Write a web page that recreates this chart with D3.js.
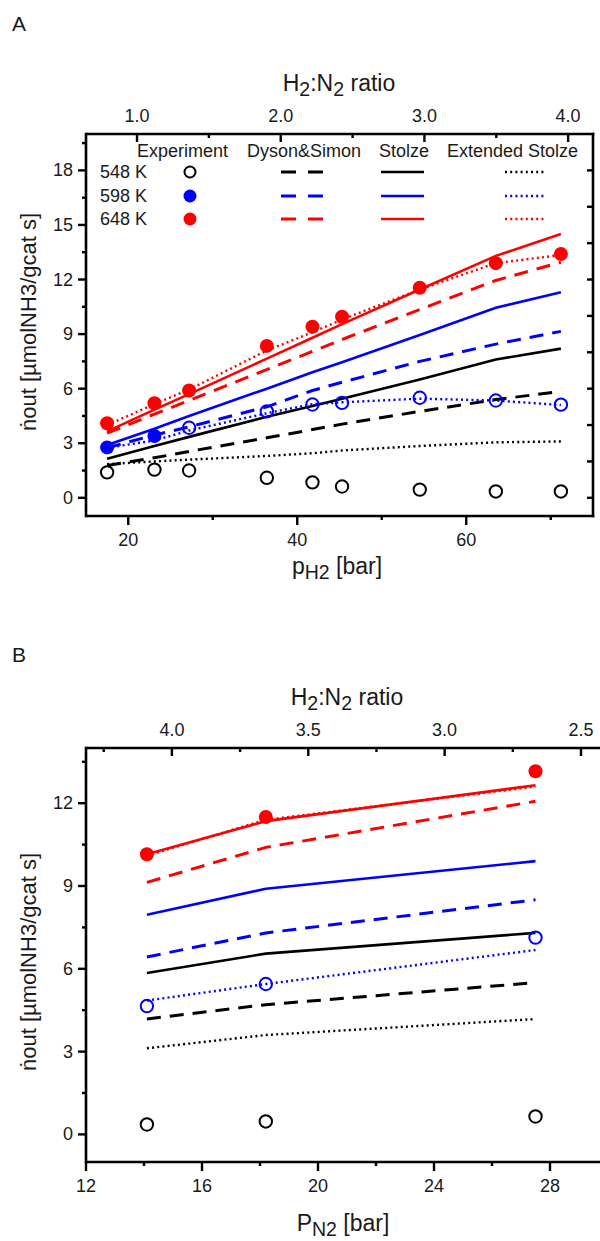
<!DOCTYPE html>
<html>
<head>
<meta charset="utf-8">
<script src="https://cdn.jsdelivr.net/npm/d3@7"></script>
<style>
  body { margin: 0; background: #fff; }
  text { font-family: "Liberation Sans", Arial, sans-serif; fill: #1a1a1a; }
</style>
</head>
<body>
<script>
// legend labels
var temps = ["548 K", "598 K", "648 K"];
var models = ["Experiment", "Dyson&Simon", "Stolze", "Extended Stolze"];

// panel A, x = pH2 [bar]
var aPH2    = [17.5, 23.1, 27.2, 36.4, 41.8, 45.3, 54.5, 63.5, 71.2];
var aExp548 = [1.4, 1.55, 1.5, 1.1, 0.85, 0.62, 0.45, 0.35, 0.35];
var aExp598 = [2.77, 3.4, 3.85, 4.75, 5.13, 5.22, 5.5, 5.35, 5.12];
var aExp648 = [4.1, 5.2, 5.9, 8.35, 9.4, 9.95, 11.55, 12.9, 13.4];
var aDS548  = [1.78, 2.2, 2.55, 3.3, 3.75, 4.05, 4.75, 5.4, 5.85];
var aDS598  = [2.75, 3.45, 3.9, 5.0, 5.9, 6.35, 7.5, 8.45, 9.15];
var aDS648  = [3.55, 4.6, 5.35, 7.05, 8.05, 8.7, 10.35, 11.95, 12.95];
var aSt548  = [2.15, 2.85, 3.35, 4.45, 5.05, 5.45, 6.5, 7.6, 8.2];
var aSt598  = [2.9, 3.8, 4.5, 6.0, 6.9, 7.45, 8.95, 10.45, 11.3];
var aSt648  = [3.65, 4.85, 5.7, 7.65, 8.8, 9.55, 11.45, 13.3, 14.5];
var aES548  = [1.85, 2.0, 2.1, 2.3, 2.45, 2.6, 2.85, 3.05, 3.1];
var aES598  = [2.75, 3.15, 3.7, 4.65, 5.15, 5.25, 5.45, 5.35, 5.1];
var aES648  = [4.0, 5.15, 5.95, 8.1, 9.1, 9.8, 11.45, 12.9, 13.35];

// panel B, x = pN2 [bar]
var bPN2    = [14.1, 18.2, 27.5];
var bExp548 = [0.36, 0.47, 0.65];
var bExp598 = [4.65, 5.45, 7.13];
var bExp648 = [10.15, 11.5, 13.16];
var bDS548  = [4.18, 4.7, 5.5];
var bDS598  = [6.43, 7.3, 8.5];
var bDS648  = [9.13, 10.4, 12.07];
var bSt548  = [5.85, 6.55, 7.3];
var bSt598  = [7.96, 8.9, 9.9];
var bSt648  = [10.15, 11.35, 12.65];
var bES548  = [3.12, 3.6, 4.18];
var bES598  = [4.85, 5.45, 6.68];
var bES648  = [10.1, 11.4, 12.6];

// ticks
var aXTicks = [20, 40, 60], aXMinor = [30, 50, 70];
var aYTicks = [0, 3, 6, 9, 12, 15, 18], aYMinor = [1.5, 4.5, 7.5, 10.5, 13.5, 16.5, 19.5];
var aRightTicks = [0, 2, 4, 6, 8, 10, 12, 14, 16, 18];
var aRatioTicks = [1.0, 2.0, 3.0, 4.0], aRatioMinor = [1.5, 2.5, 3.5];
var bXTicks = [12, 16, 20, 24, 28], bXMinor = [14, 18, 22, 26];
var bYTicks = [0, 3, 6, 9, 12], bYMinor = [1.5, 4.5, 7.5, 10.5, 13.5];
var bRatioTicks = [4.0, 3.5, 3.0, 2.5], bRatioMinor = [4.25, 3.75, 3.25, 2.75];

var colors = ["#000000", "#0000ff", "#ff0000"];
var lineStyles = {
    ds: {w: 3, dash: "14,9"},
    st: {w: 2.6, dash: null},
    es: {w: 2.4, dash: "2,3.2"}
};

var svg = d3.select("body").append("svg")
    .attr("width", 600)
    .attr("height", 1241);

// text with subscripts: parts = [[text, isSub], ...]
var richText = function (g, x, y, size, parts, anchor) {
    var t = g.append("text")
        .attr("x", x)
        .attr("y", y)
        .attr("font-size", size)
        .attr("text-anchor", anchor || "start");
    var down = false;
    parts.forEach(function (p) {
        var s = t.append("tspan").text(p[0]);
        if (p[1] && !down) { s.attr("dy", size * 0.22).attr("font-size", size * 0.85); down = true; }
        else if (p[1]) { s.attr("font-size", size * 0.85); }
        else if (down) { s.attr("dy", -size * 0.22); down = false; }
    });
    return t;
};

var drawPanel = function (p) {
    var g = svg.append("g");
    var x = p.x, y = p.y, r = p.ratio;
    var L = x.range()[0], R = x.range()[1], B = y.range()[0], T = y.range()[1];

    // series lines
    var line = d3.line()
        .x(function (d) { return x(d[0]); })
        .y(function (d) { return y(d[1]); });
    p.lines.forEach(function (s) {
        var st = lineStyles[s.model];
        g.append("path")
            .attr("d", line(p.xs.map(function (v, i) { return [v, s.vals[i]]; })))
            .attr("fill", "none")
            .attr("stroke", colors[s.temp])
            .attr("stroke-width", st.w)
            .attr("stroke-dasharray", st.dash);
    });

    // experiment markers
    p.exps.forEach(function (s) {
        p.xs.forEach(function (v, i) {
            var filled = s.filled(i);
            g.append("circle")
                .attr("cx", x(v))
                .attr("cy", y(s.vals[i]))
                .attr("r", filled ? 7 : 6.2)
                .attr("fill", filled ? colors[s.temp] : "none")
                .attr("stroke", colors[s.temp])
                .attr("stroke-width", filled ? 0 : 2);
        });
    });

    // frame
    var ax = g.append("g").attr("stroke", "#000").attr("stroke-width", 2.6).attr("fill", "none");
    ax.append("line").attr("x1", L).attr("x2", R + 1.3).attr("y1", T).attr("y2", T);
    ax.append("line").attr("x1", L).attr("x2", R + 1.3).attr("y1", B).attr("y2", B);
    ax.append("line").attr("x1", L).attr("x2", L).attr("y1", T - 1.3).attr("y2", B + 1.3);
    ax.append("line").attr("x1", R).attr("x2", R).attr("y1", T - 1.3).attr("y2", B + 1.3);

    var tick = function (x1, y1, x2, y2) {
        ax.append("line").attr("x1", x1).attr("y1", y1).attr("x2", x2).attr("y2", y2)
            .attr("stroke-width", 2.4);
    };

    // bottom axis, outward
    p.xTicks.forEach(function (v) {
        tick(x(v), B, x(v), B + 9);
        g.append("text").attr("x", x(v)).attr("y", B + 30).attr("font-size", 18)
            .attr("text-anchor", "middle").text(v);
    });
    p.xMinor.forEach(function (v) { tick(x(v), B, x(v), B + 4); });

    // left axis, outward
    p.yTicks.forEach(function (v) {
        tick(L, y(v), L - 8, y(v));
        g.append("text").attr("x", L - 13).attr("y", y(v)).attr("font-size", 18)
            .attr("text-anchor", "end").attr("dominant-baseline", "central").text(v);
    });
    p.yMinor.forEach(function (v) { tick(L, y(v), L - 4, y(v)); });

    // right axis, inward
    p.rightTicks.forEach(function (v) { tick(R, y(v), R - 6, y(v)); });

    // top ratio axis, inward
    p.ratioTicks.forEach(function (v) {
        tick(r(v), T, r(v), T + 8);
        g.append("text").attr("x", r(v)).attr("y", T - 12).attr("font-size", 18)
            .attr("text-anchor", "middle").text(v.toFixed(1));
    });
    p.ratioMinor.forEach(function (v) { tick(r(v), T, r(v), T + 4); });

    // titles
    g.append("text").attr("x", 12).attr("y", p.labelY).attr("font-size", 21).text(p.label);
    richText(g, p.ratioTitleX, T - 43, 23,
        [["H"], ["2", 1], [":N"], ["2", 1], [" ratio"]], "middle");
    richText(g, p.xTitleX, p.xTitleY, 23, p.xTitle, "middle");
    g.append("text")
        .attr("transform", "translate(36," + p.yTitleY + ") rotate(-90)")
        .attr("font-size", 22)
        .attr("text-anchor", "middle")
        .text("\u1E45out [\u00B5molNH3/gcat s]");
    return g;
};

var seriesOf = function (ds, st, es) {
    var out = [];
    [0, 1, 2].forEach(function (t) {
        out.push({temp: t, model: "ds", vals: ds[t]});
        out.push({temp: t, model: "st", vals: st[t]});
        out.push({temp: t, model: "es", vals: es[t]});
    });
    return out;
};

// panel A
var gA = drawPanel({
    x: d3.scaleLinear().domain([15, 75]).range([86, 593]),
    y: d3.scaleLinear().domain([-1, 20]).range([516, 134]),
    ratio: d3.scaleLinear().domain([0.645, 4.173]).range([86, 593]),
    xs: aPH2,
    lines: seriesOf([aDS548, aDS598, aDS648], [aSt548, aSt598, aSt648], [aES548, aES598, aES648]),
    exps: [
        {temp: 0, vals: aExp548, filled: function () { return false; }},
        {temp: 1, vals: aExp598, filled: function (i) { return i < 2; }},
        {temp: 2, vals: aExp648, filled: function () { return true; }}
    ],
    xTicks: aXTicks, xMinor: aXMinor,
    yTicks: aYTicks, yMinor: aYMinor, rightTicks: aRightTicks,
    ratioTicks: aRatioTicks, ratioMinor: aRatioMinor,
    label: "A", labelY: 31,
    ratioTitleX: 339,
    xTitle: [["p"], ["H2", 1], [" [bar]"]], xTitleX: 337, xTitleY: 574,
    yTitleY: 322
});

// legend in panel A
var legX = {ds: [281, 323], st: [381, 424], es: [505, 545]};
var headX = [137, 247, 379, 447];
models.forEach(function (m, i) {
    gA.append("text").attr("x", headX[i]).attr("y", 151).attr("font-size", 18)
        .attr("dominant-baseline", "central").text(m);
});
temps.forEach(function (t, i) {
    var ry = [172, 196, 219][i];
    gA.append("text").attr("x", 100).attr("y", ry).attr("font-size", 18)
        .attr("dominant-baseline", "central").text(t);
    gA.append("circle").attr("cx", 190).attr("cy", ry).attr("r", i === 0 ? 5.5 : 6.5)
        .attr("fill", i === 0 ? "none" : colors[i])
        .attr("stroke", colors[i]).attr("stroke-width", i === 0 ? 2 : 0);
    ["ds", "st", "es"].forEach(function (k) {
        gA.append("line").attr("x1", legX[k][0]).attr("x2", legX[k][1])
            .attr("y1", ry).attr("y2", ry)
            .attr("stroke", colors[i])
            .attr("stroke-width", lineStyles[k].w)
            .attr("stroke-dasharray", k === "ds" ? "15,12" : lineStyles[k].dash);
    });
});

// panel B
drawPanel({
    x: d3.scaleLinear().domain([12, 30]).range([86, 608]),
    y: d3.scaleLinear().domain([-1, 14]).range([1162, 748]),
    ratio: d3.scaleLinear().domain([4.315, 2.401]).range([86, 608]),
    xs: bPN2,
    lines: seriesOf([bDS548, bDS598, bDS648], [bSt548, bSt598, bSt648], [bES548, bES598, bES648]),
    exps: [
        {temp: 0, vals: bExp548, filled: function () { return false; }},
        {temp: 1, vals: bExp598, filled: function () { return false; }},
        {temp: 2, vals: bExp648, filled: function () { return true; }}
    ],
    xTicks: bXTicks, xMinor: bXMinor,
    yTicks: bYTicks, yMinor: bYMinor, rightTicks: [],
    ratioTicks: bRatioTicks, ratioMinor: bRatioMinor,
    label: "B", labelY: 662,
    ratioTitleX: 347,
    xTitle: [["P"], ["N2", 1], [" [bar]"]], xTitleX: 343, xTitleY: 1231,
    yTitleY: 962
});
</script>
</body>
</html>
